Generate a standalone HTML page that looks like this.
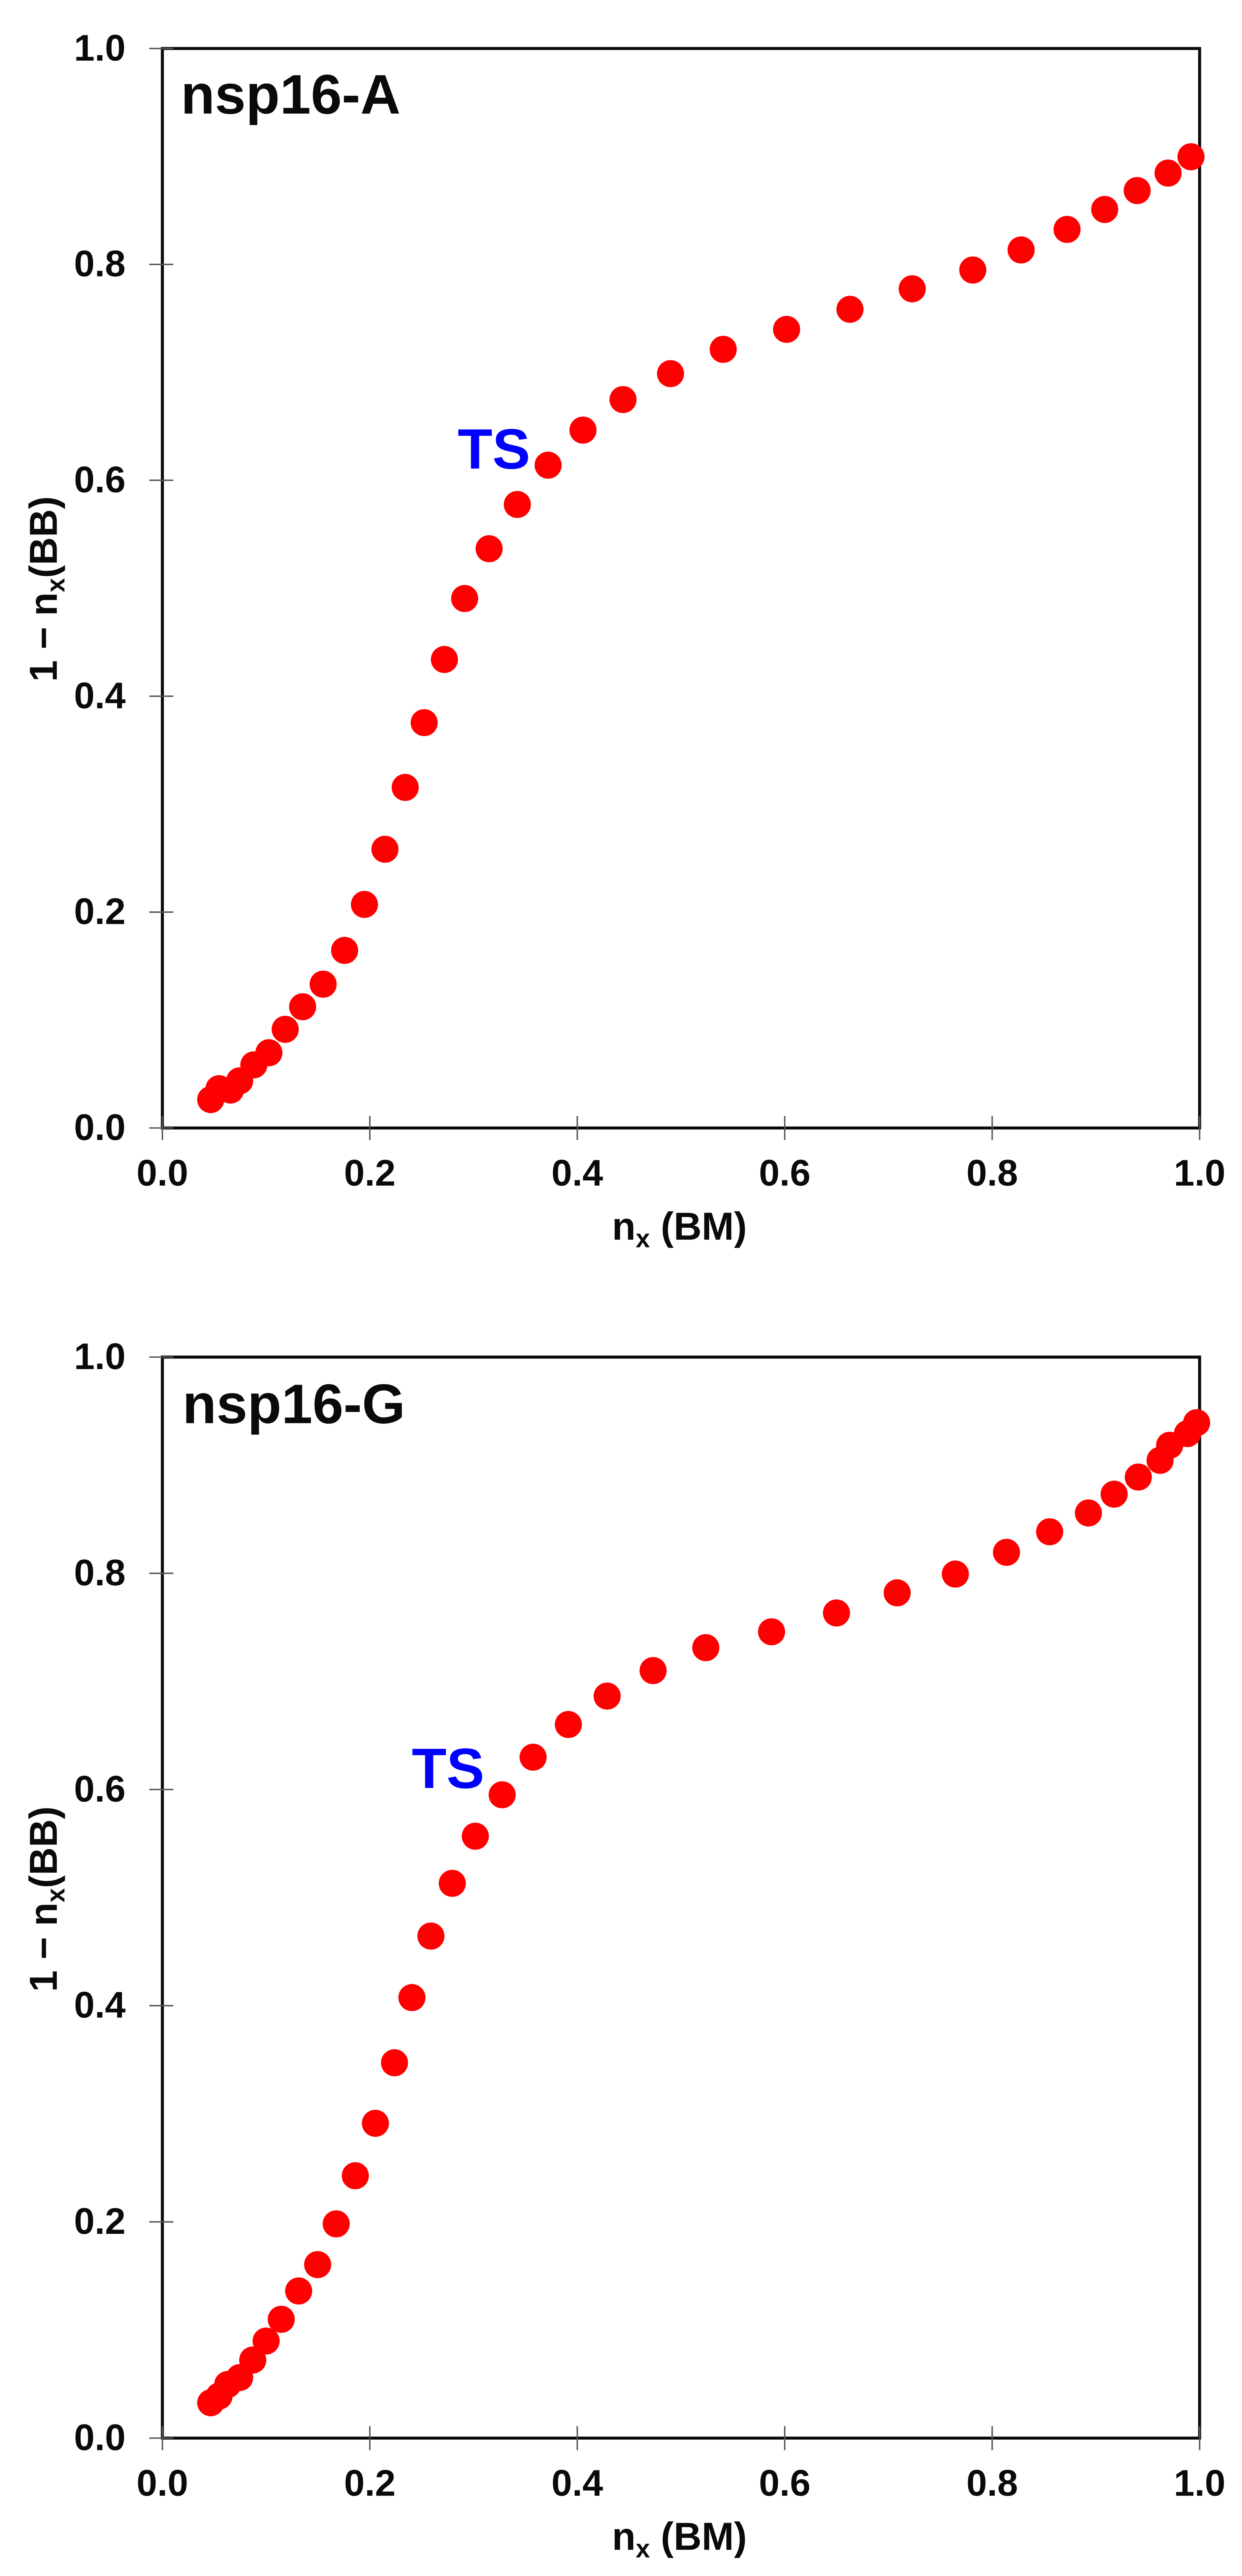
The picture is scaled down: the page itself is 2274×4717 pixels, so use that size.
<!DOCTYPE html>
<html lang="en">
<head>
<meta charset="utf-8">
<title>nsp16-A and nsp16-G folding plots</title>
<style>
  html, body { margin: 0; padding: 0; background: #ffffff; }
  body { width: 2274px; height: 4717px; overflow: hidden; }
  svg { display: block; filter: blur(0.8px); }
  text { font-family: "Liberation Sans", Arial, sans-serif; font-weight: bold; fill: #0a0a0a; }
</style>
</head>
<body>
<svg id="figure" xmlns="http://www.w3.org/2000/svg" width="2274" height="4717" viewBox="0 0 2274 4717"></svg>
<script>
const tickValues = [0, 0.2, 0.4, 0.6, 0.8, 1.0];
const tickLabels = ['0.0', '0.2', '0.4', '0.6', '0.8', '1.0'];

const nsp16aBM = [0.0466, 0.0546, 0.0657, 0.0745, 0.0882, 0.1027, 0.1184, 0.1352, 0.1550, 0.1757, 0.1948, 0.2146, 0.2341, 0.2524, 0.2719, 0.2914, 0.3150, 0.3422, 0.3719, 0.4055, 0.4441, 0.4899, 0.5407, 0.6018, 0.6629, 0.7229, 0.7813, 0.8279, 0.8722, 0.9085, 0.9398, 0.9696, 0.9917];
const nsp16aBB = [0.0263, 0.0364, 0.0352, 0.0437, 0.0585, 0.0697, 0.0914, 0.1123, 0.1332, 0.1645, 0.2071, 0.2582, 0.3155, 0.3755, 0.4340, 0.4905, 0.5366, 0.5776, 0.6140, 0.6465, 0.6748, 0.6988, 0.7213, 0.7398, 0.7584, 0.7774, 0.7948, 0.8134, 0.8324, 0.8509, 0.8684, 0.8846, 0.8997];

const nsp16gBM = [0.0466, 0.0546, 0.0630, 0.0745, 0.0871, 0.1000, 0.1146, 0.1314, 0.1497, 0.1676, 0.1860, 0.2054, 0.2238, 0.2406, 0.2589, 0.2795, 0.3017, 0.3276, 0.3574, 0.3914, 0.4288, 0.4731, 0.5239, 0.5873, 0.6499, 0.7084, 0.7645, 0.8138, 0.8554, 0.8928, 0.9176, 0.9409, 0.9619, 0.9711, 0.9883, 0.9971];
const nsp16gBB = [0.0327, 0.0388, 0.0496, 0.0560, 0.0722, 0.0898, 0.1099, 0.1361, 0.1605, 0.1982, 0.2427, 0.2912, 0.3472, 0.4075, 0.4644, 0.5132, 0.5568, 0.5951, 0.6299, 0.6601, 0.6864, 0.7100, 0.7312, 0.7459, 0.7633, 0.7819, 0.7993, 0.8194, 0.8384, 0.8558, 0.8732, 0.8890, 0.9045, 0.9184, 0.9292, 0.9393];

const SVG_NS = 'http://www.w3.org/2000/svg';
const root = document.getElementById('figure');

function make(tag, attrs, parent) {
  const el = document.createElementNS(SVG_NS, tag);
  Object.keys(attrs).forEach(function (k) { el.setAttribute(k, attrs[k]); });
  parent.appendChild(el);
  return el;
}

function addSub(textEl, before, sub, after) {
  const size = 47, shift = 14;
  const a = make('tspan', {}, textEl);
  a.textContent = before;
  const b = make('tspan', { dy: shift, 'font-size': size }, textEl);
  b.textContent = sub;
  const c = make('tspan', { dy: -shift }, textEl);
  c.textContent = after;
}

function drawPanel(prefix, title, xs, ys, box) {
  const xScale = function (v) { return box.left + (box.right - box.left) * v; };
  const yScale = function (v) { return box.bottom - (box.bottom - box.top) * v; };

  const g = make('g', {}, root);
  
  

  const frame = make('rect', {
    x: box.left, y: box.top,
    width: box.right - box.left, height: box.bottom - box.top,
    fill: 'none', stroke: '#0a0a0a', 'stroke-width': 5.5
  }, g);
  
  

  tickValues.forEach(function (v, i) {
    const xt = make('line', {
      x1: xScale(v), x2: xScale(v), y1: box.bottom - 22, y2: box.bottom + 22,
      stroke: '#555555', 'stroke-width': 2.6
    }, g);
    
    

    const yt = make('line', {
      x1: box.left - 24, x2: box.left + 20, y1: yScale(v), y2: yScale(v),
      stroke: '#555555', 'stroke-width': 2.6
    }, g);
    
    

    const xl = make('text', {
      x: xScale(v), y: box.bottom + 105.5, 'font-size': 68, 'text-anchor': 'middle'
    }, g);
    
    
    xl.textContent = tickLabels[i];

    const yl = make('text', {
      x: 230, y: yScale(v) + 22, 'font-size': 68, 'text-anchor': 'end'
    }, g);
    
    
    yl.textContent = tickLabels[i];
  });

  const xTitle = make('text', {
    x: 1244, y: box.bottom + 204.5, 'font-size': 71, 'text-anchor': 'middle'
  }, g);
  
  
  addSub(xTitle, 'n', 'x', ' (BM)');

  const yMid = box.bottom - 987;
  const yTitle = make('text', {
    x: 0, y: 0, 'font-size': 71, 'text-anchor': 'middle',
    transform: 'translate(104 ' + yMid + ') rotate(-90)'
  }, g);
  
  
  addSub(yTitle, '1 \u2212 n', 'x', '(BB)');

  const label = make('text', {
    x: box.titleX, y: box.titleY, 'font-size': 102
  }, g);
  
  
  label.textContent = title;

  const ts = make('text', {
    x: box.tsX, y: box.tsY, 'font-size': 104, style: 'fill:#0000ff'
  }, g);
  
  
  ts.textContent = 'TS';

  xs.forEach(function (xv, i) {
    const dot = make('circle', {
      cx: xScale(xv), cy: yScale(ys[i]), r: 24.8, fill: '#ff0000'
    }, g);
    
    
  });
}

drawPanel('nsp16-a', 'nsp16-A', nsp16aBM, nsp16aBB, {
  left: 297.3, right: 2196.4, top: 88.8, bottom: 2065.5,
  titleX: 331, titleY: 208, tsX: 838, tsY: 858
});
drawPanel('nsp16-g', 'nsp16-G', nsp16gBM, nsp16gBB, {
  left: 297.3, right: 2196.4, top: 2485, bottom: 4464.5,
  titleX: 334, titleY: 2606, tsX: 754, tsY: 3274
});
</script>
</body>
</html>
